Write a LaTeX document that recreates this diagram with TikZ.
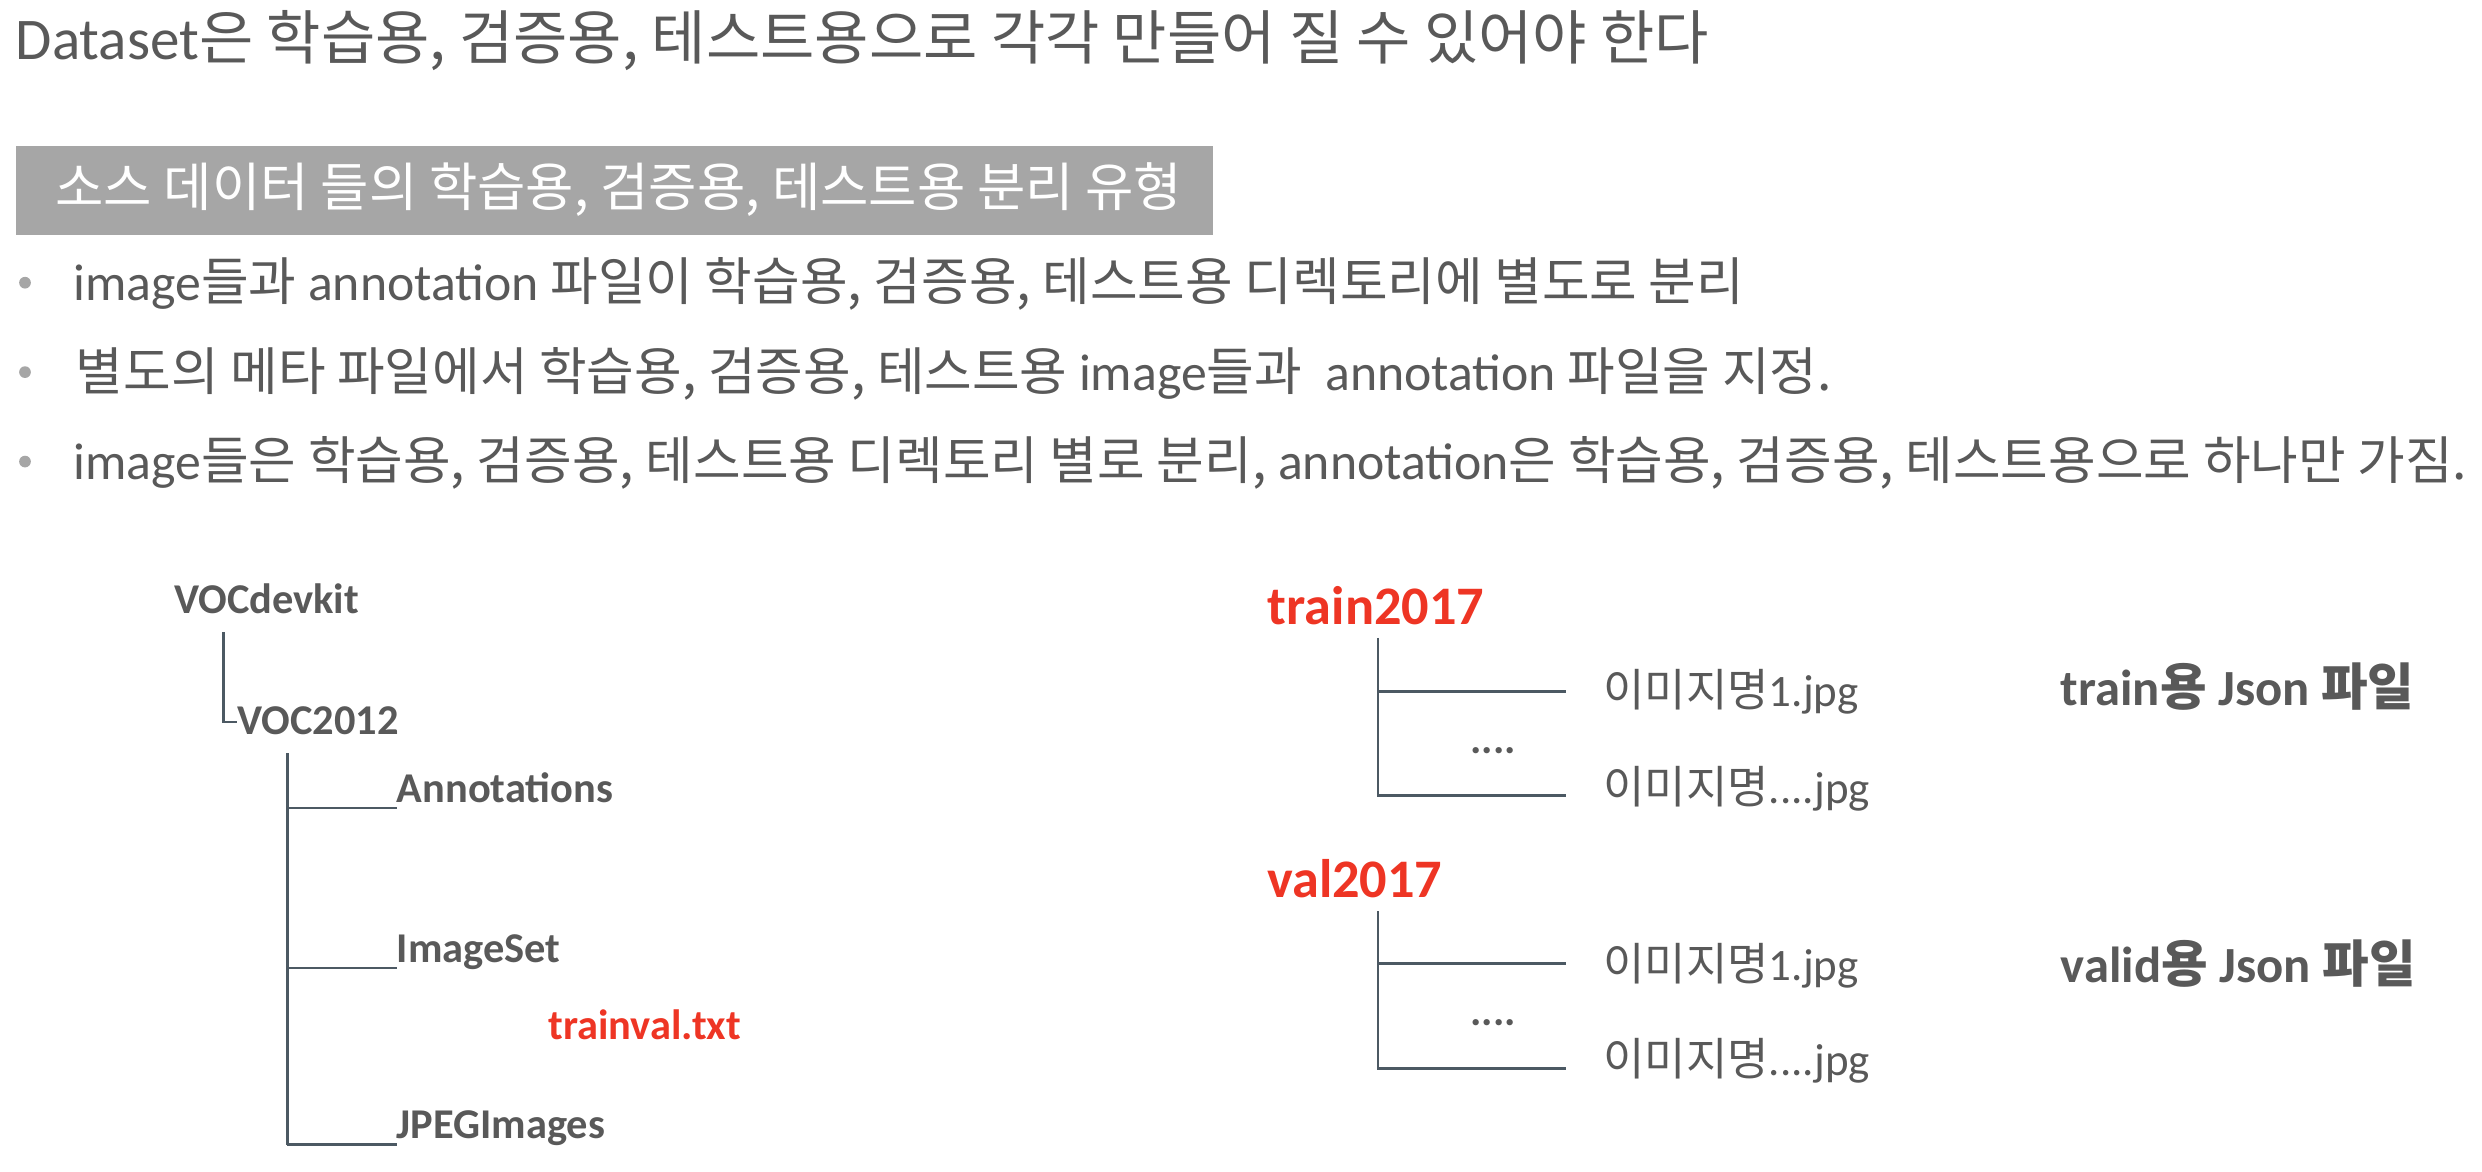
\documentclass[tikz,border=0pt]{standalone}
\usepackage{fontspec}
\setmainfont{Carlito}
\newfontfamily\kr{Noto Sans CJK KR}
\newcommand{\la}[1]{{\rmfamily #1}}
\definecolor{tgray}{HTML}{595959}
\definecolor{myred}{HTML}{EE3524}
\definecolor{lcol}{HTML}{4C5963}
\definecolor{boxgray}{HTML}{A6A6A6}
\definecolor{dgray}{HTML}{A6A6A6}
\tikzset{
  txt/.style={inner sep=0pt, outer sep=0pt, text=tgray, anchor=base west},
  titletxt/.style={txt, font=\kr\fontsize{37.3}{42}\selectfont},
  boxlab/.style={txt, font=\kr\fontsize{33.2}{38}\selectfont},
  bul/.style={txt, font=\kr\fontsize{32.7}{38}\selectfont},
  treelab/.style={txt, font=\bfseries\fontsize{26.8}{31}\selectfont},
  redlab/.style={txt, text=myred, font=\bfseries\fontsize{34.3}{40}\selectfont},
  filelab/.style={txt, font=\kr\fontsize{28.4}{33}\selectfont},
  jsonlab/.style={txt, font=\kr\bfseries\fontsize{32}{37}\selectfont},
  conn/.style={draw=lcol, line width=1.7pt},
  bdot/.style={circle, fill=dgray, inner sep=0pt, minimum size=7.4pt},
}
\begin{document}
\begin{tikzpicture}[x=1pt, y=-1pt]
\useasboundingbox (0,0) rectangle (1568,740.4);
% title
\node[titletxt] (title) at (10,37.5) {\la{Dataset}은 학습용, 검증용, 테스트용으로 각각 만들어 질 수 있어야 한다};
% gray box
\node[fill=boxgray, inner sep=0pt, minimum width=756pt, minimum height=56pt, anchor=north west] (box) at (10,92) {};
\node[boxlab, text=white, anchor=west] (boxtxt) at (35,120) {소스 데이터 들의 학습용, 검증용, 테스트용 분리 유형};
% bullets
\node[bdot] (d1) at (15.8,178.6) {};
\node[bul] (b1) at (46.5,190) {\la{image}들과 \la{annotation} 파일이 학습용, 검증용, 테스트용 디렉토리에 별도로 분리};
\node[bdot] (d2) at (15.8,235.1) {};
\node[bul] (b2) at (48,246.5) {별도의 메타 파일에서 학습용, 검증용, 테스트용 \la{image}들과\ \ \la{annotation} 파일을 지정.};
\node[bdot] (d3) at (15.8,291.6) {};
\node[bul] (b3) at (46.5,303) {\la{image}들은 학습용, 검증용, 테스트용 디렉토리 별로 분리, \la{annotation}은 학습용, 검증용, 테스트용으로 하나만 가짐.};
% left tree
\node[treelab] (voc) at (110,387.8) {VOCdevkit};
\node[treelab] (voc12) at (150,464) {VOC2012};
\node[treelab] (ann) at (250.7,506.7) {Annotations};
\node[treelab] (imgset) at (250.7,608) {ImageSet};
\node[treelab, text=myred] (trainval) at (346.5,657) {trainval.txt};
\node[treelab] (jpeg) at (250.7,719) {JPEGImages};
\coordinate (v1top) at (141.4,399.4);
\coordinate (v1bot) at (141.4,456.2);
\coordinate (v2top) at (181.6,475.9);
\coordinate (a1) at (181.6,510.4);
\coordinate (a2) at (181.6,611.6);
\coordinate (a3) at (181.6,723.2);
\draw[conn] (v1top) -- (v1bot) -- (v1bot -| voc12.west);
\draw[conn] (v2top) -- (a3);
\draw[conn] (a1) -- (a1 -| ann.west);
\draw[conn] (a2) -- (a2 -| imgset.west);
\draw[conn] (a3) -- (a3 -| jpeg.west);
% right: train
\node[redlab] (train) at (801,394.8) {train2017};
\node[filelab] (t1) at (1013,446.5) {이미지명\la{1.jpg}};
\node[treelab] (tdots) at (929,476) {....};
\node[filelab] (t2) at (1013,507.5) {이미지명\la{....jpg}};
\node[jsonlab] (tjson) at (1302,446) {\la{train}용 \la{Json} 파일};
\coordinate (tv) at (870.5,403);
\coordinate (tb1) at (870.5,436.7);
\coordinate (tb2) at (870.5,502.6);
\coordinate (te) at (989.5,436.7);
\draw[conn] (tv) -- (tb2) -- (tb2 -| te);
\draw[conn] (tb1) -- (te);
% right: val
\node[redlab] (val) at (800.6,567) {val2017};
\node[filelab] (v1) at (1013,619.5) {이미지명\la{1.jpg}};
\node[treelab] (vdots) at (929,648) {....};
\node[filelab] (v2) at (1013,679.5) {이미지명\la{....jpg}};
\node[jsonlab] (vjson) at (1302,621) {\la{valid}용 \la{Json} 파일};
\coordinate (vv) at (870.5,575.7);
\coordinate (vb1) at (870.5,608.7);
\coordinate (vb2) at (870.5,674.8);
\coordinate (ve) at (989.5,608.7);
\draw[conn] (vv) -- (vb2) -- (vb2 -| ve);
\draw[conn] (vb1) -- (ve);
\end{tikzpicture}
\end{document}
